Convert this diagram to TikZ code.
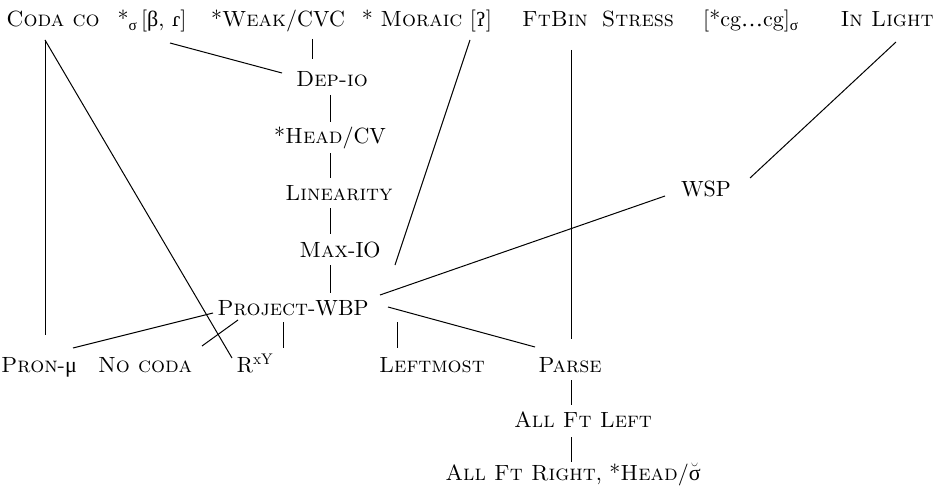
\documentclass[tikz,border=0pt]{standalone}
\usepackage{fontspec}
\setmainfont{lmroman10-regular}[Extension=.otf, SmallCapsFont=lmromancaps10-regular, ItalicFont=lmroman10-italic, BoldFont=lmroman10-bold]
\newfontfamily\grk{Liberation Serif}
\newfontfamily\ipa[Scale=0.85]{DejaVu Serif}
\begin{document}
\begin{tikzpicture}[x=1pt,y=-1pt,
  con/.style={inner sep=0pt, anchor=base, font=\fontsize{22}{26}\selectfont},
  link/.style={line width=1pt, black}]
\useasboundingbox (0,0) rectangle (943,487);
% top row
\node[con] (coda)    at (53,27)  {\textsc{Coda co}};
\node[con] (sb)      at (152,27) {*\textsubscript{\grk σ}\,[{\grk β}, {\ipa ɾ}]};
\node[con] (weak)    at (278,27) {*\textsc{Weak}/CVC};
\node[con] (moraic)  at (427,27) {* \textsc{Moraic} [{\ipa ʔ}]};
\node[con] (ftbin)   at (555,27) {\textsc{FtBin}};
\node[con] (stress)  at (638,27) {\textsc{Stress}};
\node[con] (cg)      at (751,27) {[*cg{\grk …}cg]\textsubscript{\grk σ}};
\node[con] (inlight) at (887,27) {\textsc{In Light}};
% middle chain
\node[con] (dep)  at (332,87)  {\textsc{Dep-io}};
\node[con] (head) at (330,143) {*\textsc{Head}/CV};
\node[con] (lin)  at (339,200) {\textsc{Linearity}};
\node[con] (max)  at (340,257) {\textsc{Max}-IO};
\node[con] (proj) at (293,315) {\textsc{Project}-WBP};
\node[con] (wsp)  at (706,196) {WSP};
% bottom row
\node[con] (pron)     at (39,372)  {\textsc{Pron}-{\grk μ}};
\node[con] (nocoda)   at (145,372) {\textsc{No coda}};
\node[con] (rxy)      at (255,372) {R\textsuperscript{xY}};
\node[con] (leftmost) at (432,372) {\textsc{Leftmost}};
\node[con] (parse)    at (570,372) {\textsc{Parse}};
\node[con] (aleft)    at (583,427) {\textsc{All Ft Left}};
\node[con] (aright)   at (573,480) {\textsc{All Ft Right}, *\textsc{Head}/$\breve{\mbox{\grk σ}}$};
% connectors
\draw[link] ([shift={(-8,13)}]coda.base) -- ([shift={(6,-37)}]pron.base);
\draw[link] ([shift={(-8,13)}]coda.base) -- ([shift={(-23,-14)}]rxy.base);
\draw[link] ([shift={(18,16)}]sb.base) -- ([shift={(-50,-14)}]dep.base);
\draw[link] ([shift={(34,12)}]weak.base) -- ([shift={(-20,-28)}]dep.base);
\draw[link] ([shift={(-2,8)}]dep.base) -- ([shift={(0,-21)}]head.base);
\draw[link] ([shift={(0,10)}]head.base) -- ([shift={(-9,-22)}]lin.base);
\draw[link] ([shift={(-9,8)}]lin.base) -- ([shift={(-10,-23)}]max.base);
\draw[link] ([shift={(-10,8)}]max.base) -- ([shift={(37,-22)}]proj.base);
\draw[link] ([shift={(43,13)}]moraic.base) -- ([shift={(102,-50)}]proj.base);
\draw[link] ([shift={(87,-20)}]proj.base) -- ([shift={(-41,0)}]wsp.base);
\draw[link] ([shift={(9,15)}]inlight.base) -- ([shift={(44,-18)}]wsp.base);
\draw[link] ([shift={(-80,-2)}]proj.base) -- ([shift={(34,-24)}]pron.base);
\draw[link] ([shift={(-55,5)}]proj.base) -- ([shift={(57,-26)}]nocoda.base);
\draw[link] ([shift={(-10,7)}]proj.base) -- ([shift={(28,-24)}]rxy.base);
\draw[link] ([shift={(104,7)}]proj.base) -- ([shift={(-35,-24)}]leftmost.base);
\draw[link] ([shift={(95,-8)}]proj.base) -- ([shift={(-35,-25)}]parse.base);
\draw[link] ([shift={(16,23)}]ftbin.base) -- ([shift={(1,-33)}]parse.base);
\draw[link] ([shift={(1,8)}]parse.base) -- ([shift={(-12,-22)}]aleft.base);
\draw[link] ([shift={(-12,10)}]aleft.base) -- ([shift={(-2,-18)}]aright.base);
\end{tikzpicture}
\end{document}
